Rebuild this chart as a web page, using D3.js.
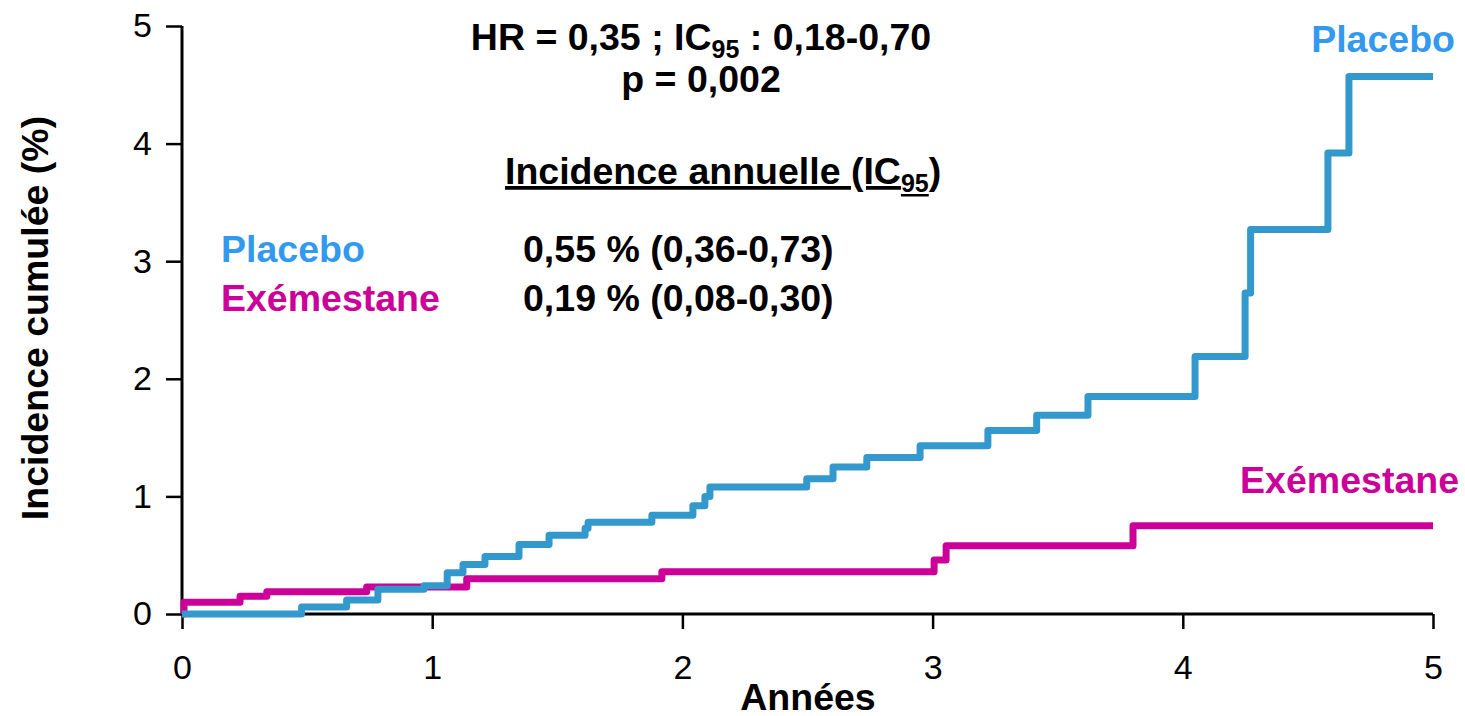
<!DOCTYPE html>
<html>
<head>
<meta charset="utf-8">
<script src="https://cdn.jsdelivr.net/npm/d3@7"></script>
<style>
  html, body { margin: 0; padding: 0; background: #fff; }
  svg { display: block; font-family: "Liberation Sans", Arial, sans-serif; }
</style>
</head>
<body>
<svg id="chart" width="1465" height="716"></svg>
<script>
// Cumulative incidence (%) step curves, time in years
const placeboTimes  = [0, 0.478, 0.658, 0.783, 0.967, 1.06, 1.123, 1.211, 1.347, 1.467, 1.611, 1.623, 1.878, 2.042, 2.09, 2.11, 2.497, 2.602, 2.737, 2.95, 3.221, 3.416, 3.621, 4.049, 4.249, 4.271, 4.58, 4.664];
const placeboValues = [0, 0.06, 0.12, 0.21, 0.24, 0.35, 0.42, 0.49, 0.59, 0.67, 0.73, 0.78, 0.84, 0.92, 1.00, 1.08, 1.15, 1.25, 1.33, 1.43, 1.56, 1.69, 1.85, 2.19, 2.73, 3.27, 3.92, 4.57];
const exemTimes  = [0, 0.008, 0.232, 0.339, 0.738, 1.138, 1.918, 3.006, 3.054, 3.801];
const exemValues = [0, 0.10, 0.15, 0.19, 0.23, 0.30, 0.36, 0.46, 0.58, 0.75];
const followUpEnd = 5;

const xTicks = [0, 1, 2, 3, 4, 5];
const yTicks = [0, 1, 2, 3, 4, 5];

const seriesNames = ["Placebo", "Exémestane"];
const annualIncidence = ["0,55 % (0,36-0,73)", "0,19 % (0,08-0,30)"];

const blueLine = "#3399cc", blueText = "#3399ee", magenta = "#cc0099";
const big = 37.5;

const svg = d3.select("#chart");
const x = d3.scaleLinear().domain([0, 5]).range([182, 1433]);
const y = d3.scaleLinear().domain([0, 5]).range([614, 26]);

// Axes
const xAxis = svg.append("g").attr("transform", `translate(0,${y(0)})`)
  .call(d3.axisBottom(x).tickValues(xTicks).tickFormat(d3.format("d")).tickSize(15).tickPadding(26));
const yAxis = svg.append("g").attr("transform", `translate(${x(0)},0)`)
  .call(d3.axisLeft(y).tickValues(yTicks).tickFormat(d3.format("d")).tickSize(16).tickPadding(14));
[xAxis, yAxis].forEach(g => {
  g.select(".domain").attr("stroke", "#000").attr("stroke-width", 3);
  g.selectAll(".tick line").attr("stroke", "#000").attr("stroke-width", 2.5);
  g.selectAll(".tick text").attr("fill", "#000").attr("font-size", 34)
    .attr("font-family", "'Liberation Sans', Arial, sans-serif");
});
xAxis.select(".domain").attr("d", `M${x(0)},0H${x(5)}`);
yAxis.select(".domain").attr("d", `M0,${y(5)}V${y(0)}`);

// Axis titles
svg.append("text").attr("x", 808).attr("y", 710).attr("text-anchor", "middle")
  .attr("font-size", big).attr("font-weight", "bold").text("Années");
svg.append("text").attr("transform", "translate(48,318) rotate(-90)").attr("text-anchor", "middle")
  .attr("font-size", big).attr("font-weight", "bold").text("Incidence cumulée (%)");

// Step curves
const line = d3.line().x(d => x(d[0])).y(d => y(d[1])).curve(d3.curveStepAfter);
function pts(times, values) {
  const p = times.map((t, i) => [t, values[i]]);
  p.push([followUpEnd, values[values.length - 1]]);
  return p;
}
svg.append("path").datum(pts(exemTimes, exemValues)).attr("d", line)
  .attr("fill", "none").attr("stroke", magenta).attr("stroke-width", 7).attr("stroke-linejoin", "round");
svg.append("path").datum(pts(placeboTimes, placeboValues)).attr("d", line)
  .attr("fill", "none").attr("stroke", blueLine).attr("stroke-width", 7).attr("stroke-linejoin", "round");

// Curve labels
svg.append("text").attr("x", 1455).attr("y", 52).attr("text-anchor", "end")
  .attr("font-size", big).attr("font-weight", "bold").attr("fill", blueText).text(seriesNames[0]);
svg.append("text").attr("x", 1459).attr("y", 493).attr("text-anchor", "end")
  .attr("font-size", big).attr("font-weight", "bold").attr("fill", magenta).text(seriesNames[1]);

// Statistics block
const hr = svg.append("text").attr("x", 701).attr("y", 50).attr("text-anchor", "middle")
  .attr("font-size", big).attr("font-weight", "bold");
hr.append("tspan").text("HR = 0,35 ; IC");
hr.append("tspan").attr("font-size", 25).attr("dy", 8).text("95");
hr.append("tspan").attr("dy", -8).text(" : 0,18-0,70");

svg.append("text").attr("x", 701).attr("y", 92).attr("text-anchor", "middle")
  .attr("font-size", big).attr("font-weight", "bold").text("p = 0,002");

const inc = svg.append("text").attr("x", 505).attr("y", 184)
  .attr("font-size", big).attr("font-weight", "bold");
inc.append("tspan").attr("text-decoration", "underline").text("Incidence annuelle (IC");
inc.append("tspan").attr("font-size", 25).attr("dy", 8).attr("text-decoration", "underline").text("95");
inc.append("tspan").attr("dy", -8).text(")");

// Annual incidence rows
const rowY = [262, 311];
const rowColors = [blueText, magenta];
seriesNames.forEach((name, i) => {
  svg.append("text").attr("x", 221).attr("y", rowY[i]).attr("font-size", big)
    .attr("font-weight", "bold").attr("fill", rowColors[i]).text(name);
  svg.append("text").attr("x", 523).attr("y", rowY[i]).attr("font-size", big)
    .attr("font-weight", "bold").attr("fill", "#000").text(annualIncidence[i]);
});
</script>
</body>
</html>
